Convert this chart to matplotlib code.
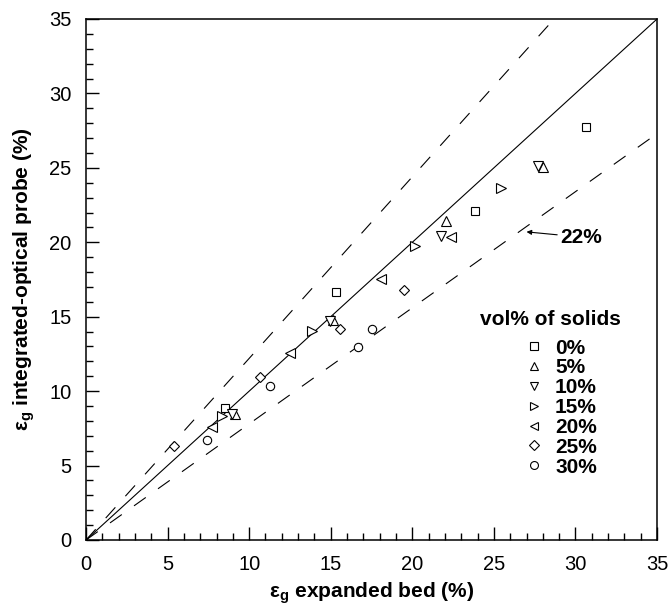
import numpy as np
import matplotlib
matplotlib.use("Agg")
import matplotlib.pyplot as plt
from matplotlib.ticker import MultipleLocator

plt.rcParams['font.family'] = ['Liberation Sans', 'DejaVu Sans']
plt.rcParams['mathtext.fontset'] = 'custom'
plt.rcParams['mathtext.rm'] = 'Liberation Sans'
plt.rcParams['mathtext.bf'] = 'Liberation Sans:bold'

# expanded bed (x) vs integrated-optical probe (y), one list per solids loading
labels = ['0%', '5%', '10%', '15%', '20%', '25%', '30%']
markers = ['s', '^', 'v', '>', '<', 'D', 'o']
msizes = [6.2, 6.6, 6.6, 6.6, 6.6, 5.4, 6.0]

x_0 = [8.50, 15.33, 23.83, 30.66]
y_0 = [8.84, 16.68, 22.10, 27.72]
x_5 = [9.14, 15.16, 22.05, 28.02]
y_5 = [8.44, 14.78, 21.42, 25.03]
x_10 = [8.93, 14.96, 21.75, 27.69]
y_10 = [8.44, 14.71, 20.42, 25.12]
x_15 = [8.34, 13.84, 20.17, 25.44]
y_15 = [8.33, 14.04, 19.74, 23.66]
x_20 = [7.75, 12.51, 18.09, 22.38]
y_20 = [7.61, 12.54, 17.51, 20.37]
x_25 = [5.41, 10.67, 15.57, 19.52]
y_25 = [6.33, 10.97, 14.17, 16.79]
x_30 = [7.44, 11.28, 16.66, 17.54]
y_30 = [6.69, 10.32, 12.94, 14.15]

xs = [x_0, x_5, x_10, x_15, x_20, x_25, x_30]
ys = [y_0, y_5, y_10, y_15, y_20, y_25, y_30]

band = 0.22   # +/- 22% lines
lim = 35

fig = plt.figure(figsize=(6.71, 6.07), dpi=100)
ax = fig.add_axes([0.1282, 0.1104, 0.8510, 0.8583])

line_x = np.array([0, lim])
ax.plot(line_x, line_x, color='black', lw=0.8)
ax.plot(line_x, (1 + band) * line_x, color='black', lw=0.8, dashes=(13, 13.5))
ax.plot(line_x, (1 - band) * line_x, color='black', lw=0.8, dashes=(13, 13.5))

handles = []
for x, y, m, s, lab in zip(xs, ys, markers, msizes, labels):
    h, = ax.plot(x, y, linestyle='none', marker=m, markersize=s,
                 markerfacecolor='white', markeredgecolor='black',
                 markeredgewidth=0.8, label=lab)
    handles.append(h)

ax.annotate('22%', xy=(27.0, 20.7), xytext=(29.05, 20.35),
            fontsize=15, fontweight='bold', va='center', ha='left',
            arrowprops=dict(arrowstyle='-|>', color='black', lw=0.8,
                            mutation_scale=7, shrinkA=0, shrinkB=0))

ax.text(0.8126, 0.4223, 'vol% of solids', transform=ax.transAxes,
        fontsize=15, fontweight='bold', ha='center', va='center')
leg = ax.legend(handles=handles, loc='upper left',
                bbox_to_anchor=(0.7664, 0.3866), frameon=False,
                prop=dict(size=15, weight='bold'), handlelength=1.0,
                handletextpad=0.51, labelspacing=0.04, borderpad=0,
                borderaxespad=0, markerscale=0.95)

ax.set_xlim(0, lim)
ax.set_ylim(0, lim)
ax.xaxis.set_major_locator(MultipleLocator(5))
ax.yaxis.set_major_locator(MultipleLocator(5))
ax.xaxis.set_minor_locator(MultipleLocator(1))
ax.yaxis.set_minor_locator(MultipleLocator(1))
ax.tick_params(which='both', direction='in', top=False, right=False,
               labelsize=14.5, width=1.0, pad=10.5)
ax.tick_params(which='major', length=9.5)
ax.tick_params(which='minor', length=5)
for sp in ax.spines.values():
    sp.set_linewidth(1.1)

ax.set_xlabel(r'ε$_\mathbf{g}$ expanded bed (%)', fontsize=15,
              fontweight='bold', labelpad=5)
ax.set_ylabel(r'ε$_\mathbf{g}$ integrated-optical probe (%)', fontsize=15,
              fontweight='bold', labelpad=9)

fig.savefig('out.png', dpi=100)
